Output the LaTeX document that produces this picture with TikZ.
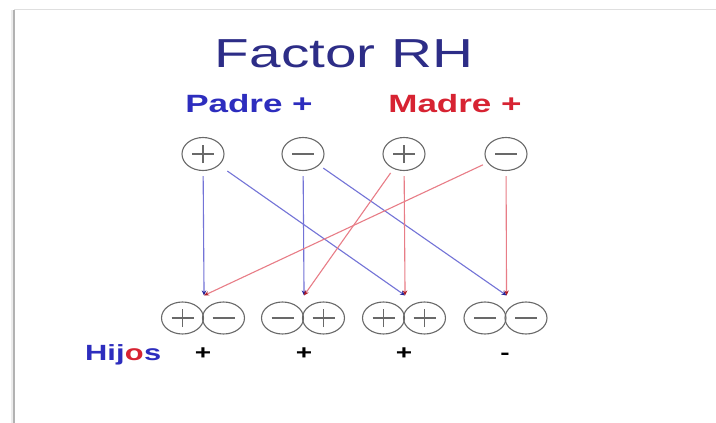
\documentclass[tikz,border=0pt]{standalone}
\usepackage{fontspec}
\setmainfont{Liberation Sans}
\usetikzlibrary{shapes.geometric,arrows.meta}
\definecolor{titlecol}{RGB}{45,45,135}
\definecolor{padrecol}{RGB}{45,45,190}
\definecolor{madrecol}{RGB}{215,35,50}
\definecolor{blueline}{RGB}{115,115,215}
\definecolor{redline}{RGB}{232,125,135}
\definecolor{circcol}{RGB}{105,105,105}
\newcommand{\widetxt}[1]{\scalebox{1.4}[1]{#1}}
\begin{document}
\begin{tikzpicture}[x=1pt,y=-1pt,
  allele/.style={ellipse, draw=circcol, line width=1.1pt, minimum width=42pt, minimum height=32pt, inner sep=0pt},
  pluscirc/.style={allele, path picture={
     \draw[circcol, line width=1.1pt]
       ([xshift=-11pt]path picture bounding box.center) -- ([xshift=11pt]path picture bounding box.center)
       ([yshift=-9pt]path picture bounding box.center) -- ([yshift=9pt]path picture bounding box.center);}},
  minuscirc/.style={allele, path picture={
     \draw[circcol, line width=1.1pt]
       ([xshift=-11pt]path picture bounding box.center) -- ([xshift=11pt]path picture bounding box.center);}},
  gene/.style={line width=1.1pt, shorten <=5pt},
  padreline/.style={gene, draw=blueline, -{Stealth[length=5pt,width=4.5pt,color=padrecol!80!black]}},
  madreline/.style={gene, draw=redline, -{Stealth[length=5pt,width=4.5pt,color=madrecol!80!black]}},
  lbl/.style={anchor=base, inner sep=0pt},
  hfont/.style={inner sep=0pt, font=\bfseries\fontsize{22}{24}\selectfont},
  sign/.style={lbl, font=\bfseries\fontsize{20}{22}\selectfont, text=black}
]
\useasboundingbox (0,0) rectangle (716,423);
\fill[white] (0,0) rectangle (716,423);
% slide frame
\draw[gray!25, line width=1pt] (14,9) -- (716,9);
\draw[gray!15, line width=2.5pt] (12,10) -- (12,423);
\draw[gray!60, line width=1.3pt] (14,10) -- (14,423);

% texts
\node[lbl, text=titlecol, font=\fontsize{40.5}{44}\selectfont] (title) at (344,67) {\widetxt{Factor RH}};
\node[lbl, text=padrecol, font=\bfseries\fontsize{25}{28}\selectfont] (padre) at (249,112) {\widetxt{Padre +}};
\node[lbl, text=madrecol, font=\bfseries\fontsize{25}{28}\selectfont] (madre) at (455,112) {\widetxt{Madre +}};

% parents
\node[pluscirc, minimum height=33pt] (p1) at (203,154) {};
\node[minuscirc, minimum height=33pt] (p2) at (303,154) {};
\node[pluscirc, minimum height=33pt] (m1) at (404,154) {};
\node[minuscirc, minimum height=33pt] (m2) at (506,154) {};

% children
\node[pluscirc]  (h1a) at (182.5,318) {};
\node[minuscirc] (h1b) at (223.5,318) {};
\node[minuscirc] (h2a) at (282.5,318) {};
\node[pluscirc]  (h2b) at (323.5,318) {};
\node[pluscirc]  (h3a) at (383.5,318) {};
\node[pluscirc]  (h3b) at (424.5,318) {};
\node[minuscirc] (h4a) at (485,318) {};
\node[minuscirc] (h4b) at (526,318) {};

\coordinate[yshift=6pt] (j1) at (h1a.east |- h1a.north);
\coordinate[yshift=6pt] (j2) at (h2a.east |- h2a.north);
\coordinate[yshift=6pt] (j3) at (h3a.east |- h3a.north);
\coordinate[yshift=6pt] (j4) at (h4a.east |- h4a.north);

% connectors
\draw[padreline] (p1) -- (j1);
\draw[padreline, shorten <=10pt] (p1) -- (j3);
\draw[padreline] (p2) -- (j2);
\draw[padreline] (p2) -- (j4);
\draw[madreline] (m1) -- (j3);
\draw[madreline] (m1) -- (j2);
\draw[madreline] (m2) -- (j4);
\draw[madreline] (m2) -- (j1);

% offspring labels
\node[hfont, anchor=base west, text=padrecol] (hij) at (85,360) {\widetxt{Hij}};
\node[hfont, anchor=base west, text=madrecol] (hijo) at (hij.base east) {\widetxt{o}};
\node[hfont, anchor=base west, text=padrecol] (hijos) at (hijo.base east) {\widetxt{s}};
\node[sign] (s1) at (203,359) {\widetxt{+}};
\node[sign] (s2) at (304,359) {\widetxt{+}};
\node[sign] (s3) at (404,359) {\widetxt{+}};
\node[sign] (s4) at (505,359) {\widetxt{-}};
\end{tikzpicture}
\end{document}
